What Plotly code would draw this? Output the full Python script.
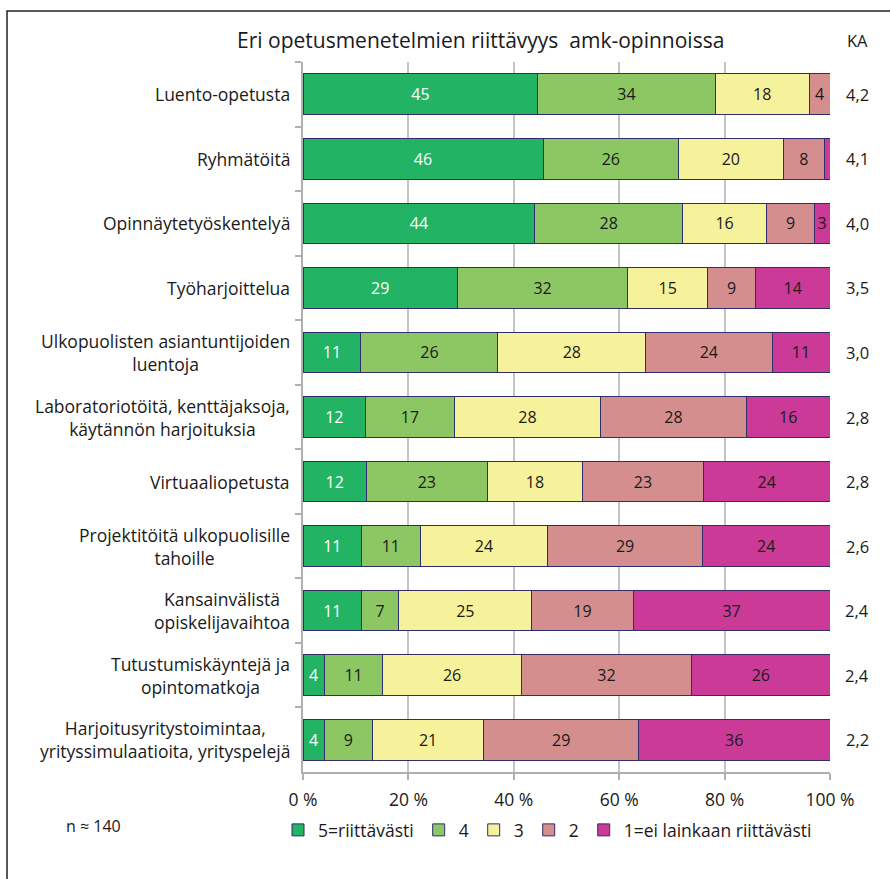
import plotly.graph_objects as go

# Survey data: adequacy of teaching methods in UAS studies (%)
categories = [
    "Luento-opetusta",
    "Ryhmätöitä",
    "Opinnäytetyöskentelyä",
    "Työharjoittelua",
    "Ulkopuolisten asiantuntijoiden<br>luentoja",
    "Laboratoriotöitä, kenttäjaksoja,<br>käytännön harjoituksia",
    "Virtuaaliopetusta",
    "Projektitöitä ulkopuolisille<br>tahoille",
    "Kansainvälistä<br>opiskelijavaihtoa",
    "Tutustumiskäyntejä ja<br>opintomatkoja",
    "Harjoitusyritystoimintaa,<br>yrityssimulaatioita, yrityspelejä",
]
s5 = [45, 46, 44, 29, 11, 12, 12, 11, 11, 4, 4]
s4 = [34, 26, 28, 32, 26, 17, 23, 11, 7, 11, 9]
s3 = [18, 20, 16, 15, 28, 28, 18, 24, 25, 26, 21]
s2 = [4, 8, 9, 9, 24, 28, 23, 29, 19, 32, 29]
s1 = [0, 1, 3, 14, 11, 16, 24, 24, 37, 26, 36]
ka = [4.2, 4.1, 4.0, 3.5, 3.0, 2.8, 2.8, 2.6, 2.4, 2.4, 2.2]

series_names = ["5=riittävästi", "4", "3", "2", "1=ei lainkaan riittävästi"]
series_values = [s5, s4, s3, s2, s1]
series_colors = ["#23b365", "#8cc764", "#f6f19b", "#d48e8e", "#cb3a96"]
text_colors = ["white", "#1a1a1a", "#1a1a1a", "#1a1a1a", "#1a1a1a"]

tick_vals = [0, 20, 40, 60, 80, 100]
tick_text = ["0 %", "20 %", "40 %", "60 %", "80 %", "100 %"]

FONT = "Open Sans, Arial, sans-serif"
INK = "#1a1a1a"

# plot-area geometry in pixels (used to place free text in paper units)
W, H = 890, 879
L, R, T, B = 303, 60, 62, 107
PW, PH = W - L - R, H - T - B


def px_x(px):
    return (px - L) / PW


def px_y(py):
    return (H - B - py) / PH


fig = go.Figure()
for name, vals, col, tcol in zip(series_names, series_values, series_colors, text_colors):
    fig.add_trace(go.Bar(
        name=name,
        y=categories,
        x=vals,
        orientation="h",
        marker=dict(color=col, line=dict(color="#2f2d6b", width=1)),
        text=[str(v) if v >= 2 else "" for v in vals],
        textposition="inside",
        insidetextanchor="middle",
        textangle=0,
        textfont=dict(color=tcol, size=16, family=FONT),
        hoverinfo="name+x",
    ))

annotations = []
# category labels (multi-line labels centred line by line)
for c in categories:
    annotations.append(dict(
        x=0, xref="paper", y=c, yref="y", text=c, showarrow=False,
        xanchor="right", yanchor="middle", align="center", xshift=-11,
        font=dict(size=17.5, family=FONT, color=INK),
    ))
# mean values (KA)
for c, v in zip(categories, ka):
    annotations.append(dict(
        x=px_x(857), xref="paper", y=c, yref="y",
        text=f"{v:.1f}".replace(".", ","), showarrow=False,
        xanchor="center", yanchor="middle",
        font=dict(size=16.5, family=FONT, color=INK),
    ))
annotations.append(dict(
    x=px_x(857), xref="paper", y=px_y(40), yref="paper", text="KA",
    showarrow=False, xanchor="center", yanchor="middle",
    font=dict(size=16.5, family=FONT, color=INK),
))
annotations.append(dict(
    x=px_x(480), xref="paper", y=px_y(40), yref="paper",
    text="Eri opetusmenetelmien riittävyys&nbsp; amk-opinnoissa",
    showarrow=False, xanchor="center", yanchor="middle",
    font=dict(size=21, family=FONT, color=INK),
))
annotations.append(dict(
    x=px_x(64), xref="paper", y=px_y(826), yref="paper", text="n ≈ 140",
    showarrow=False, xanchor="left", yanchor="middle",
    font=dict(size=16, family=FONT, color=INK),
))

fig.update_layout(
    width=W, height=H,
    margin=dict(l=L, r=R, t=T, b=B),
    paper_bgcolor="white", plot_bgcolor="white",
    barmode="stack", barnorm="percent", bargap=0.37,
    font=dict(family=FONT, size=16, color=INK),
    uniformtext=dict(minsize=16, mode="show"),
    showlegend=True,
    legend=dict(
        orientation="h", x=px_x(278), y=px_y(830), xanchor="left", yanchor="middle",
        font=dict(size=17.5, family=FONT), traceorder="normal",
        itemwidth=30, tracegroupgap=0, bgcolor="rgba(0,0,0,0)",
    ),
    annotations=annotations,
    shapes=[dict(
        type="rect", xref="paper", yref="paper",
        x0=px_x(7), x1=px_x(W + 20), y0=px_y(11), y1=px_y(H + 20),
        line=dict(color="#222222", width=1.5), fillcolor="rgba(0,0,0,0)", layer="below",
    )],
)

fig.update_xaxes(
    range=[0, 100], tickvals=tick_vals, ticktext=tick_text,
    showgrid=True, gridcolor="#c4c4c4", gridwidth=1.5,
    showline=True, linecolor="#b0b0b0", linewidth=1.5,
    ticks="outside", ticklen=6, tickcolor="#b0b0b0", tickwidth=1.5,
    ticklabelstandoff=5,
    zeroline=False, tickfont=dict(size=17.5, family=FONT, color=INK),
    fixedrange=True,
)
fig.update_yaxes(
    categoryorder="array", categoryarray=categories, autorange="reversed",
    showticklabels=False, showgrid=False,
    showline=True, linecolor="#b0b0b0", linewidth=1.5,
    ticks="outside", ticklen=6, tickcolor="#b0b0b0", tickwidth=1.5,
    tickson="boundaries", fixedrange=True,
)

fig.write_html("out.html")
